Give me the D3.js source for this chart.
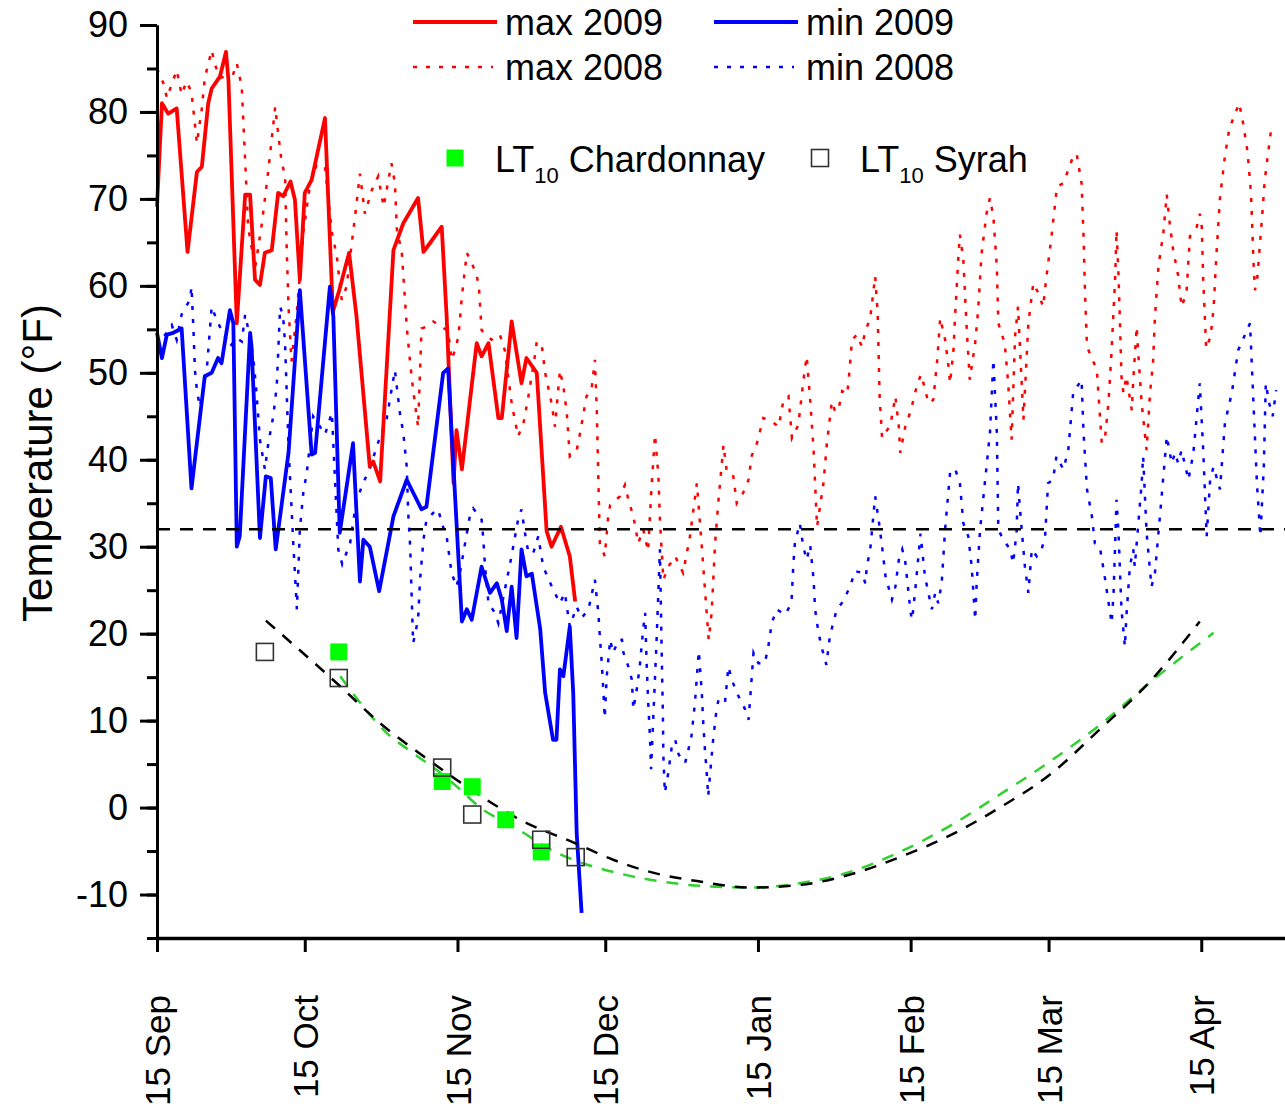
<!DOCTYPE html>
<html>
<head>
<meta charset="utf-8">
<script src="https://cdn.jsdelivr.net/npm/d3@7"></script>
<style>
  body { margin: 0; background: #fff; }
  text { font-family: "Liberation Sans", Arial, sans-serif; }
</style>
</head>
<body>
<div id="chart"></div>
<script>
// days counted from 15 Sep, temperatures in degrees F

const max2009Day = [0,1.0,2.3,4.0,6.2,8.1,9.1,10.4,11.1,12.8,14.0,14.5,16.2,17.9,18.9,19.9,20.9,21.9,23.3,24.6,25.6,27.1,28.0,29.0,30.0,31.4,34.1,35.7,37.0,39.0,40.5,43.2,43.9,45.3,48.0,50.0,53.0,54.1,55.4,57.8,58.8,60.2,60.8,61.9,64.9,65.9,67.3,69.3,70.0,72.0,74.0,75.0,77.1,79.1,80.1,82.0,83.8,84.9];
const max2009Temp = [69.1,81,79.8,80.4,63.9,73.1,73.7,81,82.7,84.1,86.9,83.7,55.7,70.5,70.5,60.7,60.1,63.8,64.1,70.7,70.3,72,69.9,60.7,70.7,72.2,79.3,57,59.5,63.8,56.5,39.2,39.8,37.5,64.1,67.2,70.1,63.9,64.9,66.8,56.5,37.3,43.4,38.9,53.4,51.9,53.4,44.8,44.8,55.9,48.8,51.7,50,31.8,30,32.3,28.9,23.7];

const min2009Day = [0,1.0,2.0,3.3,5.0,7.0,9.7,11.1,12.4,13.1,14.8,15.5,16.2,16.8,18.9,19.2,20.9,22.1,23.1,24.1,26.7,29.0,31.4,32.1,35.1,35.8,37.1,39.8,41.2,41.9,43.2,45.1,48.0,50.7,53.7,54.7,58.1,59.1,61.9,62.9,63.9,65.9,67.6,69.0,70.0,71.0,72.0,73.0,74.0,75.0,76.1,77.8,78.8,80.4,81.1,81.8,82.5,83.8,84.5,85.2,86.2];
const min2009Temp = [54.6,51.7,54.4,54.6,55.1,36.7,49.6,50,51.7,51.1,57.2,55.7,30,31.2,54.6,53,31,38.1,37.9,29.7,40.8,59.5,40.6,40.8,59.9,56.5,31.6,41.9,26,30.8,30,24.9,33.5,37.7,34.3,34.6,50,50.5,21.4,22.8,21.6,27.7,24.7,25.8,23.9,20.3,25.4,19.5,29.7,26.6,26.9,20.5,13.2,7.8,7.8,15.9,15.1,20.8,13.2,-2.9,-12.1];

const max2008Day = [0,1.3,2.0,4.0,5.0,6.0,7.0,8.1,9.1,9.7,11.1,11.8,12.8,15.5,16.2,17.2,18.2,18.5,19.9,21.3,22.6,24.0,24.6,25.3,26.0,26.3,26.7,27.3,28.4,29.7,31.1,32.4,34.1,35.5,36.5,37.5,38.5,39.5,40.2,41.2,42.2,43.6,44.9,46.0,47.6,48.3,48.7,49.7,50.3,50.7,51.4,52.0,53.0,53.7,54.7,56.1,59.1,59.8,60.5,61.2,61.9,62.9,63.9,64.9,65.4,65.9,67.9,69.6,70.6,72.0,73.3,74.4,75.4,76.7,77.1,78.1,78.8,80.1,80.8,81.8,82.5,83.2,83.8,85.2,85.9,87.2,88.2,88.9,89.3,89.6,89.9,90.9,91.6,92.0,94.0,95.0,95.7,96.7,97.7,98.7,99.7,100.4,101.1,101.8,102.1,102.8,103.8,105.2,106.8,108.2,109.6,110.6,112.0,112.6,113.3,114.0,115.0,115.7,117.0,117.7,119.0,120.1,120.7,121.8,123.1,124.8,126.2,127.2,128.2,128.9,130.2,131.2,131.9,132.6,133.3,134.0,135.3,136.0,137.0,137.7,138.4,139.1,140.1,140.4,141.1,142.1,143.1,143.8,144.8,145.8,146.3,146.7,147.2,148.9,149.9,150.6,150.9,151.9,153.0,154.3,155.1,155.9,156.6,157.6,158.4,159.0,160.0,160.7,161.0,161.7,162.0,162.7,163.0,163.7,164.4,165.0,166.1,166.7,167.4,168.4,169.1,169.8,170.5,170.8,172.1,172.8,173.5,174.2,174.8,175.9,176.9,177.9,178.9,179.9,180.6,181.6,182.7,184.0,186.0,186.7,187.7,188.1,188.4,188.8,189.8,190.8,191.8,192.5,193.2,193.8,194.5,194.8,195.2,195.5,195.8,196.2,196.8,197.9,198.2,198.9,199.2,199.9,200.9,201.6,202.2,202.6,203.3,204.3,205.0,205.6,206.3,207.3,208.0,209.0,209.7,211.1,211.7,212.1,212.4,213.0,213.9,214.5,215.1,215.8,216.8,217.7,218.8,219.7,220.5,221.4,222.1,222.6,222.9,223.4,224.3,224.9,225.6,226.3];
const max2008Temp = [85.0,83.3,81.6,84.8,82.0,83.5,82.3,76.4,80.4,83.9,87.1,85.4,83.9,84.4,85.6,82.9,70.7,66.8,62.0,67.2,73.3,80.6,77.5,74.3,72.6,64.9,57.6,51.3,57.0,66.1,71.8,73.9,73.7,66.2,63.4,58.4,59.9,64.7,68.0,72.9,68.3,71.0,72.6,69.1,74.1,71.8,66.5,63.8,58.8,55.3,51.1,48.0,43.8,55.1,55.3,55.9,54.8,51.5,52.6,54.2,58.8,63.8,62.6,61.3,59.5,54.9,53.8,54.4,52.6,46.5,42.7,44.2,47.3,51.9,53.6,53.2,50.0,46.5,43.8,50.3,48.4,45.4,40.4,41.1,43.1,47.3,48.0,51.5,45.4,37.7,30.4,28.9,33.5,34.8,35.8,37.1,35.4,33.5,30.4,32.0,29.5,36.9,42.9,38.1,33.1,26.2,27.7,28.9,27.0,31.2,37.3,30.0,19.3,22.4,30.4,35.4,41.7,38.5,38.1,35.0,36.2,37.7,40.4,41.9,44.8,44.4,43.8,46.9,47.3,42.5,44.0,49.0,51.9,46.9,41.1,32.3,37.3,41.9,46.7,45.5,45.9,47.9,47.5,49.0,53.8,54.4,53.0,54.8,56.3,61.1,56.9,47.3,42.5,44.0,47.3,43.8,40.8,43.8,45.6,48.6,49.8,48.2,46.5,46.9,51.5,56.3,53.8,50.7,48.8,52.6,56.3,63.4,65.9,63.0,54.9,49.2,53.4,57.2,63.7,68.3,70.1,67.9,62.2,55.7,53.4,48.8,42.3,54.2,57.6,44.6,55.7,60.3,59.2,57.6,61.2,65.7,71.4,71.8,74.9,75.2,71.8,65.7,59.2,53.0,51.7,50.3,41.9,42.7,46.9,52.6,60.7,66.4,61.2,55.7,49.6,47.7,49.6,45.7,49.2,55.3,52.3,46.5,41.1,47.7,51.1,56.5,62.2,66.1,70.5,67.2,64.1,61.2,57.6,59.2,65.7,66.8,68.3,66.8,60.7,52.8,54.2,57.4,63.8,70.1,74.9,78.1,79.7,81.0,78.7,75.4,70.6,62.8,59.5,61.1,67.6,72.2,75.4,78.5];

const min2008Day = [0,1.2,3.0,4.0,5.0,6.7,7.0,7.4,7.7,8.1,8.7,10.1,10.4,11.1,12.1,13.1,14.8,16.2,17.2,17.9,18.9,19.6,20.2,20.9,21.9,22.6,23.6,24.3,25.0,25.6,26.0,26.7,27.3,27.7,28.4,29.0,29.7,30.4,31.7,33.1,34.1,35.5,36.8,37.6,39.2,40.4,41.6,43.2,44.9,46.6,47.6,48.3,49.3,50.0,50.7,51.0,51.4,51.7,52.0,53.0,53.4,54.1,54.7,56.1,57.1,57.8,58.8,59.8,60.8,61.5,63.5,64.2,65.9,66.2,66.6,67.3,68.6,69.3,70.6,71.7,72.7,73.3,74.0,74.7,75.4,76.4,77.4,78.4,80.4,81.8,82.8,83.8,85.2,86.2,87.6,88.9,89.6,89.9,90.3,90.6,90.9,91.3,92.0,92.6,93.7,94.4,94.7,95.7,96.4,96.7,97.4,98.0,98.7,99.1,99.4,99.7,100.1,100.3,101.4,102.1,102.5,102.7,102.8,103.1,103.8,104.5,105.2,105.9,107.2,107.9,108.5,109.2,110.0,110.6,110.9,111.2,111.6,111.9,112.6,112.9,113.6,114.0,115.3,116.0,116.7,117.7,119.4,120.1,120.7,121.1,122.1,123.4,124.1,124.8,125.8,127.5,128.8,129.2,129.5,130.5,131.2,131.9,132.6,133.3,133.6,134.3,134.9,135.9,136.6,138.0,139.0,140.1,140.7,141.7,143.1,143.8,144.1,144.8,145.8,146.5,147.2,147.9,149.2,149.9,150.6,151.3,151.9,153.0,153.3,154.0,155.0,155.9,157.3,158.0,158.6,159.3,160.0,161.0,162.0,163.0,163.7,164.7,165.4,166.1,166.4,167.1,168.4,169.1,169.8,170.5,170.8,171.8,173.2,173.8,174.5,174.8,175.2,176.2,176.9,177.6,178.6,179.6,180.3,180.9,181.9,182.6,184.0,185.0,186.0,187.7,188.1,188.8,189.8,190.4,191.4,192.5,193.8,194.2,194.8,195.2,195.8,196.5,196.8,197.5,198.2,198.5,199.9,200.2,200.9,201.9,202.6,203.9,205.0,206.0,206.7,207.3,208.0,209.4,210.4,211.7,212.4,213.1,213.8,214.5,215.8,216.8,218.2,219.5,221.9,222.6,223.3,224.0,224.7,225.1,225.8,226.5,227.2];
const min2008Temp = [53,54,55.5,53.8,56.7,58.4,59.9,55.0,50.3,48.0,46.1,50.3,52.5,57.6,56.1,54.9,53,54.0,53.6,56.7,54.0,51.5,47.7,42.3,38.9,41.9,45.0,48.4,57.6,56.5,53.4,41.5,34.6,30.0,22.8,32.0,36.2,38.5,45,43.8,42.9,45.4,29.7,28,30.4,35,37,39,42,44.6,48.0,50.3,45.4,43.1,39.2,33.9,30.0,24.3,18.9,21.6,26.2,30.8,33.1,33.9,34.3,32.7,31.2,27.0,25.4,27.0,33.5,34.4,33.1,31.2,27.7,23.5,22.4,21.2,25.0,28.1,31.2,33.1,34.3,31.6,29.3,29.3,31.2,27.7,25.1,23.5,24.7,20.8,23.1,21.8,22.8,26.2,22.4,19.7,16.6,13.6,10.3,15.1,19.3,17.8,19.3,19.3,17.8,16.2,14.7,11.3,13.6,16.2,20.5,22.4,16.6,12.4,7.8,4.4,18.9,29.7,16.6,10.9,5.9,1.7,4.0,7.0,7.8,6.1,5.1,6.7,8.2,12.0,18.0,13.2,9.7,7.0,4.0,1.3,5.9,7.8,11.3,12.4,12.0,16.2,14.7,13.2,11.3,10.1,14.7,17.8,16.6,16.6,18.5,21.2,22.8,22.2,23.5,28.1,30.4,32.7,30.0,28.5,30.2,26.2,22.8,20.1,18.5,16.4,19.7,22.8,23.5,24.7,25.4,27.2,27.0,25.8,27.7,29.7,35.8,33.1,30.0,26.6,23.9,25.4,28.5,29.7,28.3,22.4,21.6,25.4,31.5,26.6,22.8,24.7,23.5,25.8,32.0,38.5,39.0,37.3,32.7,31.2,27.7,21.6,25.8,32.0,39.2,43.1,51.5,43.1,32.0,30.8,29.7,28.1,31.6,37.3,34.3,27.7,24.7,29.7,28.9,29.7,31.2,37.3,37.7,40.4,38.9,41.1,47.7,49.2,43.1,36.6,33.5,30.4,30.0,26.2,21.2,24.7,35.4,31.6,22.8,18.5,22.0,27.7,29.7,27.7,37.3,40.4,31.6,25.4,27.0,35.4,42.7,39.6,40.8,39.6,41.1,37.7,40.8,48.8,41.1,31.2,37.7,39.2,36.6,44.2,47.7,52.6,55.7,46.5,37.3,31.2,39.2,48.8,46.5,45.0,48.0];

// LT10 cold hardiness samples
const syrahDay = [21.9,36.9,57.9,64.0,78.0,85.0];
const syrahLT10 = [17.9,14.9,4.6,-0.8,-3.7,-5.7];
const chardDay = [36.9,57.9,64.0,70.8,78.0];
const chardLT10 = [17.9,3.0,2.4,-1.4,-5.1];

// fitted curves
const syrahFitDay = [22.1,36.9,45.3,54.1,64.2,74.4,84.5,92.6,100.1,110.2,120.4,130.5,140.7,150.8,161.0,171.1,181.3,191.4,201.6,211.7];
const syrahFit = [21.5,14.1,9.7,5.9,1.9,-1.6,-4.0,-6.0,-7.4,-8.5,-9.2,-8.9,-7.7,-5.7,-3.2,0,3.8,9.0,14.5,21.4];
const chardFitDay = [37.2,41.9,46.6,51.4,57.5,61.5,65.6,71.0,74.4,79.1,84.5,93.3,100.1,110.2,120.4,130.5,140.7,150.8,161.0,171.1,181.3,191.4,201.6,214.5];
const chardFit = [15.1,11.6,8.6,6.5,4.0,2.1,0.0,-1.8,-2.9,-4.6,-6.0,-7.5,-8.3,-9.0,-9.2,-8.7,-7.4,-5.1,-2.1,1.5,5.3,9.5,14.4,20.1];

const freezeLine = 32;
const tickDays = [0,30,61,91,122,153,181,212];

const W = 1285, H = 1111;
const start = Date.UTC(2009, 8, 15);
const day = d => new Date(start + d * 864e5);

const svg = d3.select("#chart").append("svg")
  .attr("width", W).attr("height", H)
  .style("background", "#fff");

const x = d3.scaleUtc().domain([day(0), day(229)]).range([157, 1285]);
const y = d3.scaleLinear().domain([-15, 90]).range([938, 25]);

const zip = (ds, vs) => ds.map((d, i) => ({ d: day(d), v: vs[i] }));
const line = d3.line().x(p => x(p.d)).y(p => y(p.v));
const smooth = d3.line().x(p => x(p.d)).y(p => y(p.v)).curve(d3.curveMonotoneX);

// 2008 season (dotted)
svg.append("path").datum(zip(max2008Day, max2008Temp))
  .attr("d", line).attr("fill", "none").attr("stroke", "#ff0000")
  .attr("stroke-width", 2.5).attr("stroke-dasharray", "4,9");
svg.append("path").datum(zip(min2008Day, min2008Temp))
  .attr("d", line).attr("fill", "none").attr("stroke", "#0000ff")
  .attr("stroke-width", 2.5).attr("stroke-dasharray", "4,9");

// 2009 season (solid)
svg.append("path").datum(zip(max2009Day, max2009Temp))
  .attr("d", line).attr("fill", "none").attr("stroke", "#ff0000")
  .attr("stroke-width", 3.8).attr("stroke-linejoin", "round");
svg.append("path").datum(zip(min2009Day, min2009Temp))
  .attr("d", line).attr("fill", "none").attr("stroke", "#0000ff")
  .attr("stroke-width", 3.8).attr("stroke-linejoin", "round");

// 32F line
svg.append("line")
  .attr("x1", x(day(0))).attr("x2", W)
  .attr("y1", y(freezeLine)).attr("y2", y(freezeLine))
  .attr("stroke", "#000").attr("stroke-width", 2.5).attr("stroke-dasharray", "13,10");

// fitted curves
svg.append("path").datum(zip(chardFitDay, chardFit))
  .attr("d", smooth).attr("fill", "none").attr("stroke", "#2fd02f")
  .attr("stroke-width", 2.5).attr("stroke-dasharray", "12,10");
svg.append("path").datum(zip(syrahFitDay, syrahFit))
  .attr("d", smooth).attr("fill", "none").attr("stroke", "#000")
  .attr("stroke-width", 2.5).attr("stroke-dasharray", "12,10");

// LT10 markers
const sq = 17;
svg.selectAll(".chard").data(zip(chardDay, chardLT10)).enter().append("rect")
  .attr("x", p => x(p.d) - sq / 2).attr("y", p => y(p.v) - sq / 2)
  .attr("width", sq).attr("height", sq).attr("fill", "#00ff00");
svg.selectAll(".syrah").data(zip(syrahDay, syrahLT10)).enter().append("rect")
  .attr("x", p => x(p.d) - sq / 2).attr("y", p => y(p.v) - sq / 2)
  .attr("width", sq).attr("height", sq).attr("fill", "none")
  .attr("stroke", "#333").attr("stroke-width", 1.6);

// y axis
const yMinor = svg.append("g").attr("transform", "translate(157,0)")
  .call(d3.axisLeft(y).tickValues(d3.range(-15, 91, 5)).tickSize(10).tickSizeOuter(0).tickFormat(""));
const yAxis = svg.append("g").attr("transform", "translate(157,0)")
  .call(d3.axisLeft(y).tickValues(d3.range(-10, 91, 10)).tickSize(17).tickSizeOuter(0).tickPadding(12)
    .tickFormat(d => String(d)));
[yMinor, yAxis].forEach(g => {
  g.select(".domain").attr("stroke-width", 3);
  g.selectAll(".tick line").attr("stroke-width", 3);
});
yAxis.selectAll("text").attr("font-size", 36).attr("fill", "#000")
  .style("font-family", "'Liberation Sans', Arial, sans-serif");

// x axis
const xAxis = svg.append("g").attr("transform", "translate(0,938)")
  .call(d3.axisBottom(x).tickValues(tickDays.map(day)).tickSize(14).tickSizeOuter(0)
    .tickFormat(d3.utcFormat("%-d %b")));
xAxis.select(".domain").attr("stroke-width", 3.5);
xAxis.selectAll(".tick line").attr("stroke-width", 3);
xAxis.selectAll("text")
  .attr("transform", "rotate(-90)")
  .attr("text-anchor", "end")
  .attr("x", -57).attr("y", 0).attr("dy", "0.36em")
  .attr("font-size", 35).attr("fill", "#000")
  .style("font-family", "'Liberation Sans', Arial, sans-serif");

// y label
svg.append("text")
  .attr("transform", "translate(52,463) rotate(-90)")
  .attr("text-anchor", "middle")
  .attr("font-size", 42)
  .text("Temperature (°F)");

// legend
const legend = [
  { label: "max 2009", color: "#ff0000", dash: null, x: 413, y: 22, len: 84 },
  { label: "min 2009", color: "#0000ff", dash: null, x: 714, y: 22, len: 84 },
  { label: "max 2008", color: "#ff0000", dash: "4,9", x: 413, y: 67, len: 80 },
  { label: "min 2008", color: "#0000ff", dash: "4,9", x: 714, y: 67, len: 80 }
];
legend.forEach(l => {
  svg.append("line")
    .attr("x1", l.x).attr("x2", l.x + l.len).attr("y1", l.y).attr("y2", l.y)
    .attr("stroke", l.color).attr("stroke-width", l.dash ? 2.5 : 3.8)
    .attr("stroke-dasharray", l.dash);
  svg.append("text").attr("x", l.x + 92).attr("y", l.y + 13)
    .attr("font-size", 36).text(l.label);
});

function ltLabel(px, name) {
  const t = svg.append("text").attr("x", px).attr("y", 172).attr("font-size", 36);
  t.append("tspan").text("LT");
  t.append("tspan").attr("font-size", 22).attr("dy", 11).text("10");
  t.append("tspan").attr("dy", -11).text(" " + name);
}
svg.append("rect").attr("x", 455 - sq / 2).attr("y", 158 - sq / 2)
  .attr("width", sq).attr("height", sq).attr("fill", "#00ff00");
ltLabel(495, "Chardonnay");
svg.append("rect").attr("x", 820 - sq / 2).attr("y", 158 - sq / 2)
  .attr("width", sq).attr("height", sq).attr("fill", "none")
  .attr("stroke", "#333").attr("stroke-width", 1.6);
ltLabel(860, "Syrah");
</script>
</body>
</html>
